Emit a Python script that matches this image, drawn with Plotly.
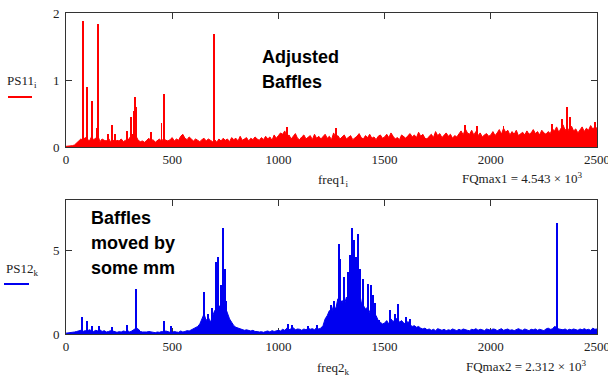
import plotly.graph_objects as go

# ---------------- data ----------------
base_freq = list(range(0, 2501, 10))

ps11_base = [
    0.01, 0.01, 0.02, 0.02, 0.03, 0.06, 0.09, 0.12, 0.10, 0.14,
    0.12, 0.09, 0.15, 0.11, 0.13, 0.17, 0.08, 0.12, 0.10, 0.09,
    0.13, 0.08, 0.11, 0.07, 0.10, 0.09, 0.12, 0.08, 0.10, 0.09,
    0.14, 0.18, 0.20, 0.16, 0.10, 0.08, 0.09, 0.07, 0.10, 0.13,
    0.09, 0.11, 0.07, 0.10, 0.12, 0.08, 0.13, 0.10, 0.09, 0.11,
    0.14, 0.09, 0.12, 0.10, 0.16, 0.19, 0.13, 0.11, 0.15, 0.12,
    0.09, 0.12, 0.10, 0.08, 0.11, 0.13, 0.09, 0.12, 0.10, 0.08,
    0.11, 0.07, 0.12, 0.09, 0.13, 0.10, 0.12, 0.08, 0.14, 0.11,
    0.13, 0.09, 0.16, 0.10, 0.12, 0.14, 0.09, 0.13, 0.11, 0.15,
    0.12, 0.10, 0.14, 0.11, 0.16, 0.12, 0.15, 0.10, 0.18, 0.13,
    0.17, 0.21, 0.19, 0.24, 0.15, 0.18, 0.12, 0.16, 0.20, 0.13,
    0.11, 0.15, 0.18, 0.12, 0.14, 0.17, 0.11, 0.19, 0.13, 0.16,
    0.12, 0.15, 0.19, 0.13, 0.16, 0.11, 0.21, 0.14, 0.17, 0.12,
    0.15, 0.18, 0.12, 0.14, 0.17, 0.11, 0.13, 0.16, 0.20, 0.14,
    0.12, 0.17, 0.14, 0.19, 0.13, 0.15, 0.11, 0.16, 0.18, 0.13,
    0.15, 0.19, 0.14, 0.21, 0.16, 0.12, 0.14, 0.11, 0.18, 0.15,
    0.13, 0.17, 0.20, 0.15, 0.18, 0.14, 0.22, 0.16, 0.19, 0.13,
    0.12, 0.16, 0.19, 0.14, 0.23, 0.17, 0.20, 0.14, 0.18, 0.21,
    0.16, 0.19, 0.13, 0.17, 0.15, 0.20, 0.24, 0.18, 0.27, 0.21,
    0.19, 0.25, 0.18, 0.23, 0.17, 0.21, 0.15, 0.18, 0.20, 0.16,
    0.18, 0.23, 0.17, 0.21, 0.26, 0.19, 0.28, 0.22, 0.25, 0.18,
    0.23, 0.19, 0.25, 0.17, 0.20, 0.22, 0.18, 0.24, 0.19, 0.21,
    0.26, 0.20, 0.23, 0.18, 0.25, 0.21, 0.19, 0.23, 0.20, 0.27,
    0.24, 0.30, 0.22, 0.27, 0.33, 0.25, 0.29, 0.23, 0.31, 0.24,
    0.27, 0.21, 0.25, 0.30, 0.23, 0.28, 0.25, 0.32, 0.27, 0.30,
    0.28,
]
ps11_peak_freq = [79, 100, 124, 145, 152, 199, 217, 231, 287, 306, 319, 325, 330,
                  399, 450, 461, 697, 1040, 1270, 1880, 1935, 2060, 2290, 2335,
                  2359, 2373, 2490]
ps11_peak_val = [1.88, 0.89, 0.68, 0.28, 1.84, 0.20, 0.33, 0.20, 0.24, 0.45, 0.53,
                 0.74, 0.60, 0.22, 0.36, 0.79, 1.68, 0.30, 0.28, 0.33, 0.32, 0.32,
                 0.35, 0.42, 0.60, 0.45, 0.38]

ps12_base = [
    0.05, 0.06, 0.08, 0.10, 0.12, 0.15, 0.18, 0.22, 0.15, 0.20,
    0.18, 0.25, 0.20, 0.15, 0.22, 0.18, 0.25, 0.15, 0.20, 0.12,
    0.15, 0.20, 0.18, 0.12, 0.10, 0.14, 0.12, 0.18, 0.15, 0.20,
    0.12, 0.18, 0.25, 0.35, 0.30, 0.15, 0.12, 0.10, 0.12, 0.15,
    0.12, 0.10, 0.08, 0.12, 0.10, 0.15, 0.12, 0.18, 0.12, 0.10,
    0.10, 0.15, 0.12, 0.10, 0.18, 0.12, 0.15, 0.20, 0.18, 0.25,
    0.30, 0.35, 0.45, 0.60, 0.90, 1.20, 0.80, 1.00, 0.70, 1.10,
    1.40, 1.20, 1.70, 1.50, 1.90, 1.60, 1.20, 0.90, 0.70, 0.50,
    0.40, 0.35, 0.30, 0.28, 0.22, 0.25, 0.20, 0.18, 0.22, 0.15,
    0.15, 0.12, 0.14, 0.10, 0.15, 0.18, 0.12, 0.20, 0.15, 0.18,
    0.22, 0.18, 0.28, 0.22, 0.35, 0.25, 0.30, 0.38, 0.25, 0.30,
    0.28, 0.22, 0.30, 0.25, 0.35, 0.28, 0.32, 0.25, 0.38, 0.30,
    0.35, 0.50, 0.90, 1.10, 1.40, 1.30, 1.70, 1.50, 2.10, 1.80,
    2.00, 1.70, 2.20, 1.90, 2.50, 2.80, 2.40, 2.20, 2.60, 1.90,
    1.70, 1.50, 1.60, 1.30, 1.20, 1.00, 1.10, 0.80, 0.70, 0.60,
    0.65, 0.80, 0.60, 0.90, 0.75, 0.85, 0.95, 0.70, 0.80, 0.65,
    0.60, 0.75, 0.55, 0.45, 0.50, 0.40, 0.45, 0.35, 0.30, 0.35,
    0.25, 0.30, 0.22, 0.28, 0.20, 0.32, 0.25, 0.22, 0.28, 0.20,
    0.25, 0.22, 0.30, 0.25, 0.20, 0.28, 0.22, 0.30, 0.25, 0.22,
    0.20, 0.28, 0.25, 0.32, 0.22, 0.28, 0.25, 0.20, 0.30, 0.25,
    0.22, 0.30, 0.28, 0.20, 0.25, 0.32, 0.22, 0.28, 0.30, 0.22,
    0.25, 0.20, 0.28, 0.32, 0.25, 0.22, 0.30, 0.25, 0.20, 0.28,
    0.25, 0.30, 0.22, 0.28, 0.25, 0.20, 0.30, 0.35, 0.28, 0.30,
    0.45, 0.40, 0.30, 0.28, 0.25, 0.30, 0.22, 0.28, 0.25, 0.30,
    0.28, 0.22, 0.30, 0.25, 0.32, 0.25, 0.28, 0.22, 0.35, 0.28,
    0.30,
]
ps12_peak_freq = [77, 100, 124, 157, 217, 287, 328, 460, 493, 650, 668, 686, 705,
                  717, 728, 741, 749, 756, 1045, 1065, 1140, 1180, 1246, 1262,
                  1284, 1290, 1309, 1329, 1337, 1348, 1356, 1364, 1373, 1384,
                  1400, 1420, 1435, 1444, 1455, 1474, 1525, 1549, 1565, 1600,
                  1620, 2310, 2314]
ps12_peak_val = [1.00, 0.75, 0.50, 0.45, 0.40, 0.55, 2.68, 0.80, 0.45, 2.50, 1.20,
                 1.55, 4.30, 4.60, 2.90, 6.35, 3.90, 2.00, 0.60, 0.55, 0.50, 0.55,
                 1.75, 2.00, 5.35, 4.50, 3.40, 3.70, 4.70, 6.35, 5.60, 4.60, 5.95,
                 3.90, 3.30, 3.00, 2.95, 2.35, 1.85, 0.85, 1.45, 1.20, 1.80, 1.00,
                 0.90, 6.60, 2.40]

x_ticks = [0, 500, 1000, 1500, 2000, 2500]
y1_ticks = [0, 1, 2]
y2_ticks = [0, 5]

RED = "#ff0000"
BLUE = "#0000f0"
SERIF = "Liberation Serif"
SANS = "Liberation Sans"
W, H = 608, 378

fig = go.Figure()
fig.add_trace(go.Scatter(x=base_freq, y=ps11_base, mode="lines", fill="tozeroy",
                         line=dict(color=RED, width=1), fillcolor=RED,
                         xaxis="x", yaxis="y", showlegend=False))
fig.add_trace(go.Bar(x=ps11_peak_freq, y=ps11_peak_val, width=4,
                     marker=dict(color=RED, line=dict(width=0)),
                     xaxis="x", yaxis="y", showlegend=False))
fig.add_trace(go.Scatter(x=base_freq, y=ps12_base, mode="lines", fill="tozeroy",
                         line=dict(color=BLUE, width=1), fillcolor=BLUE,
                         xaxis="x2", yaxis="y2", showlegend=False))
fig.add_trace(go.Bar(x=ps12_peak_freq, y=ps12_peak_val, width=4,
                     marker=dict(color=BLUE, line=dict(width=0)),
                     xaxis="x2", yaxis="y2", showlegend=False))

xd = [66 / W, 597 / W]
axis_common = dict(showline=True, linecolor="#333333", linewidth=1, mirror="ticks",
                   ticks="inside", ticklen=6, tickcolor="#333333", showgrid=False,
                   zeroline=False, layer="below traces", ticklabeloverflow="allow",
                   automargin=False,
                   tickfont=dict(family=SERIF, size=13, color="#222"))

fig.update_layout(
    width=W, height=H, margin=dict(l=0, r=0, t=0, b=0, autoexpand=False),
    paper_bgcolor="white", plot_bgcolor="white", bargap=0,
    xaxis=dict(domain=xd, range=[0, 2500], tickvals=x_ticks, anchor="y", **axis_common),
    yaxis=dict(domain=[1 - 147 / H, 1 - 13 / H], range=[0, 2], tickvals=y1_ticks,
               anchor="x", ticklabelstandoff=3, **axis_common),
    xaxis2=dict(domain=xd, range=[0, 2500], tickvals=x_ticks, anchor="y2", **axis_common),
    yaxis2=dict(domain=[1 - 334 / H, 1 - 200 / H], range=[0, 8], tickvals=y2_ticks,
                ticktext=["0", "5"], anchor="x2", ticklabelstandoff=3, **axis_common),
)

def ann(text, x, y, size, family, xanchor="left", yanchor="middle", color="#222"):
    fig.add_annotation(text=text, x=x / W, y=1 - y / H, xref="paper", yref="paper",
                       showarrow=False, xanchor=xanchor, yanchor=yanchor, align="left",
                       font=dict(family=family, size=size, color=color))

# axis titles / Mathcad labels
ann("freq1<sub>i</sub>", 333, 180, 13, SERIF, xanchor="center")
ann("FQmax1 = 4.543 × 10<sup>3</sup>", 460, 178, 13, SERIF)
ann("freq2<sub>k</sub>", 333, 368, 13, SERIF, xanchor="center")
ann("FQmax2 = 2.312 × 10<sup>3</sup>", 464, 366, 13, SERIF)
ann("PS11<sub>i</sub>", 5, 81, 13, SERIF)
ann("PS12<sub>k</sub>", 4, 269, 13, SERIF)

fig.add_shape(type="line", xref="paper", yref="paper", x0=8 / W, x1=32 / W,
              y0=1 - 97 / H, y1=1 - 97 / H, line=dict(color=RED, width=2))
fig.add_shape(type="line", xref="paper", yref="paper", x0=4 / W, x1=29 / W,
              y0=1 - 284 / H, y1=1 - 284 / H, line=dict(color=BLUE, width=2))

# bold notes, one annotation per line
note1 = ["Adjusted", "Baffles"]
note1_y = [57, 82]
for t, yy in zip(note1, note1_y):
    ann("<b>" + t + "</b>", 260, yy, 18, SANS, color="black")
note2 = ["Baffles", "moved by", "some mm"]
note2_y = [218, 243, 268]
for t, yy in zip(note2, note2_y):
    ann("<b>" + t + "</b>", 89, yy, 18, SANS, color="black")

fig.write_html("out.html")
